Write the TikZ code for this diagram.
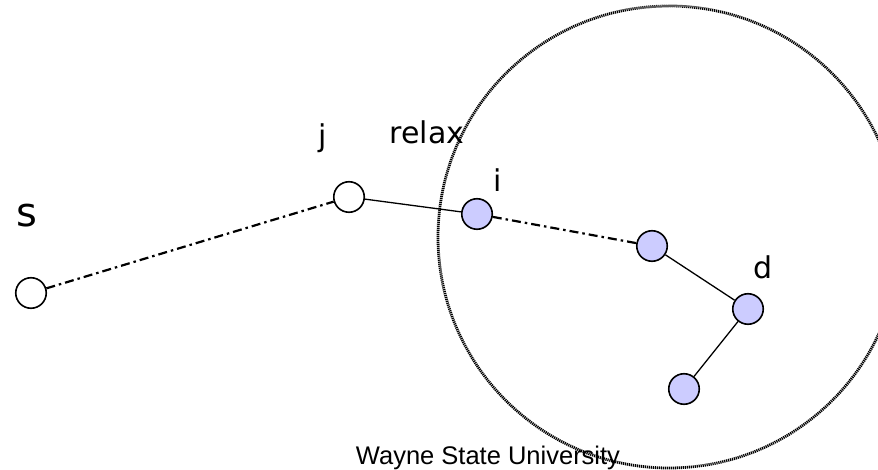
\documentclass[tikz,border=0pt]{standalone}
\usepackage{fontspec}
\setmainfont{DejaVu Sans}
\newfontfamily\footfont{Liberation Sans}
\usetikzlibrary{positioning}
\definecolor{nodeblue}{RGB}{204,204,255}
\tikzset{
    vertex/.style={circle, draw=black, fill=white, line width=1.6pt, minimum size=30.5pt, inner sep=0pt},
    vertexB/.style={vertex, fill=nodeblue},
    edge/.style={line width=1.3pt, black},
    pathedge/.style={line width=2.2pt, black, dash pattern=on 9pt off 4pt on 2.5pt off 4pt},
    region/.style={line width=2.8pt, black, dash pattern=on 1.2pt off 0.8pt},
    lbl/.style={font=\fontsize{30}{32}\selectfont},
}
\begin{document}
\begin{tikzpicture}[x=1pt, y=-1pt]
    \clip (0,0) rectangle (878,470);
    % neighbourhood of the settled part
    \draw[region] (669,237) circle (231);
    % vertices
    \node[vertex] (s) at (31,293) {};
    \node[vertex] (j) at (349,197) {};
    \node[vertexB] (i) at (477,214) {};
    \node[vertexB] (a) at (652,246) {};
    \node[vertexB] (d) at (748,309) {};
    \node[vertexB] (b) at (684,389) {};
    % edges
    \draw[pathedge] (s) -- (j);
    \draw[edge] (j) -- (i);
    \draw[pathedge] (i) -- (a);
    \draw[edge] (a) -- (d);
    \draw[edge] (d) -- (b);
    % labels
    \node[font=\fontsize{40}{42}\selectfont] (ls) at (27,216) {s};
    \node[lbl] (lj) at (323,138) {j};
    \node[lbl] (lrelax) at (427,132) {relax};
    \node[lbl] (li) at (498,180) {i};
    \node[lbl] (ld) at (763,267) {d};
    \node[font=\footfont\fontsize{25.5}{27}\selectfont, anchor=base] (foot) at (488,464) {Wayne State University};
\end{tikzpicture}
\end{document}
